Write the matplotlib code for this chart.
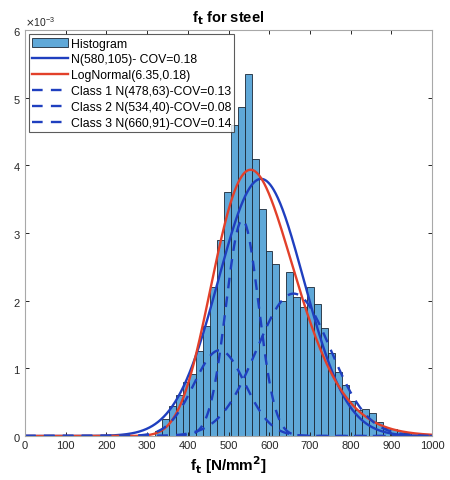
import numpy as np
import matplotlib
matplotlib.use("Agg")
import matplotlib.pyplot as plt

plt.rcParams['font.family'] = ['Liberation Sans', 'DejaVu Sans']

# Histogram of f_t (N/mm^2): left bin edges, common width, pdf heights (x1e-3)
bin_left = [319, 336, 353, 370, 387, 404, 421, 438, 455, 472, 489, 506, 523,
            540, 557, 574, 591, 608, 625, 642, 659, 676, 693, 710, 727, 744,
            761, 778, 795, 812, 829, 846, 863, 880, 897, 914, 931]
bin_width = 17
bar_height = [0.08, 0.25, 0.45, 0.60, 0.80, 0.92, 1.25, 1.62, 2.20, 2.90, 3.60,
              4.60, 4.86, 5.35, 4.10, 3.35, 2.73, 2.54, 2.00, 2.42, 2.05, 1.90,
              2.20, 1.95, 1.60, 1.22, 0.95, 0.75, 0.52, 0.38, 0.40, 0.34, 0.20,
              0.12, 0.10, 0.08, 0.04]

# fitted distributions (parameters from the legend)
norm_fit = (580, 105)
lognorm_fit = (6.35, 0.18)
class_mean = [478, 534, 660]
class_std = [63, 40, 91]
class_weight = [0.20, 0.32, 0.48]
class_cov = [0.13, 0.08, 0.14]

blue = '#1f3fbf'
red = '#e2402a'
bar_color = '#5fa8d8'


def normal_pdf(x, m, s):
    return np.exp(-0.5 * ((x - m) / s) ** 2) / (s * np.sqrt(2 * np.pi))


def lognormal_pdf(x, mu, sig):
    out = np.zeros_like(x)
    pos = x > 0
    out[pos] = np.exp(-0.5 * ((np.log(x[pos]) - mu) / sig) ** 2) / (x[pos] * sig * np.sqrt(2 * np.pi))
    return out


fig = plt.figure(figsize=(4.5, 4.81), dpi=100)
ax = fig.add_axes([0.0556, 0.0915, 0.9044, 0.8441])

x = np.linspace(0, 1000, 1001)

handles = []
handles.append(ax.bar(bin_left, np.array(bar_height) * 1e-3, width=bin_width, align='edge',
                      color=bar_color, edgecolor='#1b2836', linewidth=0.6, label='Histogram'))
handles += ax.plot(x, normal_pdf(x, *norm_fit), color=blue, lw=1.7,
                   label='N(%d,%d)- COV=0.18' % norm_fit)
handles += ax.plot(x, lognormal_pdf(x, *lognorm_fit), color=red, lw=1.7,
                   label='LogNormal(%.2f,%.2f)' % lognorm_fit)
for i in range(3):
    handles += ax.plot(x, class_weight[i] * normal_pdf(x, class_mean[i], class_std[i]),
                       color=blue, lw=1.7, dashes=(4.5, 3.5),
                       label='Class %d N(%d,%d)-COV=%.2f' % (i + 1, class_mean[i], class_std[i], class_cov[i]))

ax.set_xlim(0, 1000)
ax.set_ylim(0, 6e-3)
ax.set_xticks(np.arange(0, 1001, 100))
ax.set_yticks(np.arange(0, 6.1e-3, 1e-3))
ax.ticklabel_format(axis='y', style='sci', scilimits=(-3, -3), useMathText=True)
ax.yaxis.get_offset_text().set_fontsize(7.5)
ax.yaxis.get_offset_text().set_color('#555555')

ax.tick_params(direction='in', length=3, width=0.7, labelsize=8,
               top=True, right=True, colors='#262626', pad=3)
for sp in ax.spines.values():
    sp.set_color('#a8a8a8')
    sp.set_linewidth(0.8)

ax.set_title('f$_\\mathbf{t}$ for steel', fontsize=10.5, fontweight='bold', pad=6)
ax.set_xlabel('f$_\\mathbf{t}$ [N/mm$^\\mathbf{2}$]', fontsize=11, fontweight='bold', labelpad=2)

leg = ax.legend(handles=handles, loc='upper left', bbox_to_anchor=(0.003, 0.995), fontsize=8.8,
                frameon=True, fancybox=False, edgecolor='#333333',
                handlelength=3.0, handletextpad=0.2, labelspacing=0.32,
                borderpad=0.25, borderaxespad=0.2)
leg.get_frame().set_linewidth(0.8)

fig.savefig('out.png', dpi=100)
